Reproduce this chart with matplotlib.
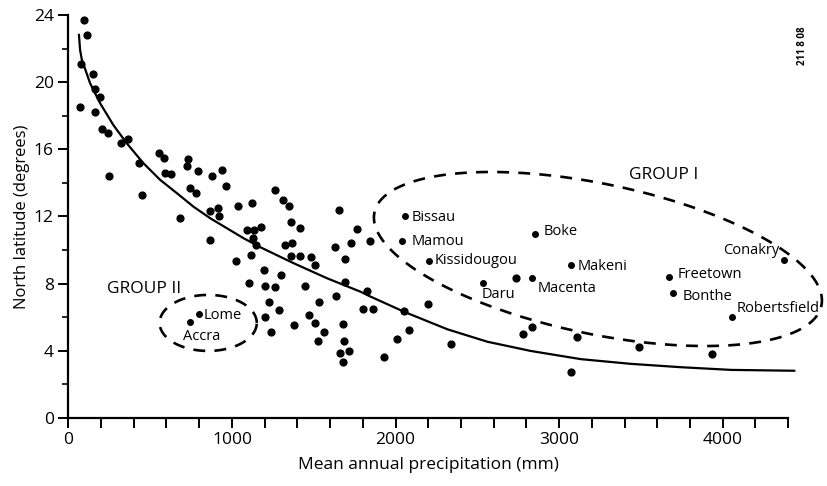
import numpy as np
import matplotlib
matplotlib.use("Agg")
import matplotlib.pyplot as plt
from matplotlib.ticker import MultipleLocator

plt.rcParams['font.family'] = ['Open Sans', 'DejaVu Sans']
plt.rcParams['font.weight'] = 'medium'

# unlabelled stations (precipitation mm, latitude deg N)
precip = [98, 113, 78, 153, 165, 194, 72, 162, 208, 243, 323, 367, 251, 435, 453,
          557, 582, 592, 629, 733, 725, 790, 878, 937, 684, 745, 782, 964, 1037, 1123,
          867, 915, 918, 867, 1092, 1133, 1129, 1180, 1147, 1265, 1313, 1347, 1363, 1418,
          1322, 1369, 1653, 1766, 1628, 1725, 1843, 1117, 1027, 1194, 1300, 1106, 1204,
          1265, 1363, 1414, 1486, 1510, 1449, 1694, 1690, 1637, 1224, 1286, 1200, 1530,
          1469, 1510, 1561, 1382, 1239, 1680, 1683, 1527, 1663, 1718, 1677, 1827, 1802,
          1861, 2051, 2198, 1928, 2010, 2081, 2341, 2739, 2776, 2837, 3108, 3488, 3935,
          3071]
lat = [23.7, 22.8, 21.1, 20.5, 19.6, 19.1, 18.5, 18.2, 17.2, 17.0, 16.4, 16.6, 14.4, 15.2, 13.3,
       15.8, 15.5, 14.6, 14.5, 15.4, 15.0, 14.7, 14.4, 14.75, 11.9, 13.7, 13.4, 13.8, 12.6, 12.8,
       12.3, 12.5, 12.0, 10.6, 11.2, 11.2, 10.7, 11.35, 10.3, 13.6, 13.0, 12.6, 11.65, 11.3,
       10.3, 10.4, 12.4, 11.25, 10.2, 10.4, 10.55, 9.7, 9.36, 8.8, 8.5, 8.05, 7.85,
       7.8, 9.65, 9.66, 9.56, 9.1, 7.85, 9.45, 8.1, 7.26, 6.9, 6.4, 6.0, 6.9,
       6.1, 5.65, 5.1, 5.55, 5.1, 5.6, 4.6, 4.57, 3.85, 3.98, 3.34, 7.55, 6.5,
       6.5, 6.36, 6.8, 3.64, 4.7, 5.2, 4.4, 8.3, 5.0, 5.4, 4.83, 4.23, 3.78,
       2.74]

# named stations
names = ['Lome', 'Accra', 'Bissau', 'Mamou', 'Kissidougou', 'Daru', 'Macenta',
         'Boke', 'Makeni', 'Freetown', 'Bonthe', 'Robertsfield', 'Conakry']
name_precip = [796, 745, 2057, 2037, 2204, 2534, 2837, 2853, 3071, 3669, 3698, 4057, 4377]
name_lat = [6.18, 5.69, 12.03, 10.55, 9.34, 8.05, 8.35, 10.94, 9.1, 8.4, 7.42, 6.02, 9.4]
# label offsets in pixels and alignment
name_off = [(5, -1), (-7, -14), (7, -2), (10, -1), (6, 1), (-1, -12), (5, -11),
            (9, 3), (7, -1), (9, 2), (9, -3), (5, 8), (-5, 10)]
name_ha = ['left'] * 12 + ['right']

# fitted curve
curve_x = [65, 72, 82, 133, 194, 275, 357, 459, 561, 664, 765, 867, 970, 1071, 1174,
           1377, 1582, 1786, 1847, 2051, 2317, 2561, 2826, 3133, 3439, 3745, 4051, 4437]
curve_y = [22.82, 21.92, 21.37, 19.94, 18.75, 17.45, 16.36, 15.17, 14.18, 13.38, 12.58,
           11.89, 11.29, 10.70, 10.16, 9.21, 8.31, 7.51, 7.22, 6.32, 5.27, 4.53, 3.98,
           3.49, 3.21, 3.01, 2.85, 2.80]

fig = plt.figure(figsize=(8.27, 4.86), dpi=100)
ax = fig.add_axes([0.0826, 0.1405, 0.8705, 0.8285])

ax.plot(curve_x, curve_y, color='black', lw=1.6, clip_on=False, zorder=3,
        solid_joinstyle='round')
ax.scatter(precip, lat, s=24, color='black', zorder=4, clip_on=False)
ax.scatter(name_precip, name_lat, s=16, color='black', zorder=4, clip_on=False)

for n, px, py, off, ha in zip(names, name_precip, name_lat, name_off, name_ha):
    ax.annotate(n, (px, py), xytext=off, textcoords='offset pixels',
                ha=ha, va='center', fontsize=10.5, annotation_clip=False)

# dashed group outlines
t = np.linspace(0, 2 * np.pi, 300)
ex = 3237 + 1366 * np.cos(t) + 94 * np.sin(t)
ey = 9.46 - 2.78 * np.cos(t) + 4.38 * np.sin(t)
ax.plot(ex, ey, color='black', lw=1.9, ls=(0, (4.5, 3.5)), clip_on=False)
gx = 855 + 297 * np.cos(t)
gy = 5.65 + 1.67 * np.sin(t)
ax.plot(gx, gy, color='black', lw=1.9, ls=(0, (4.5, 3.5)), clip_on=False)

ax.text(3638, 14.47, 'GROUP I', ha='center', va='center', fontsize=12.5)
ax.text(460, 7.67, 'GROUP II', ha='center', va='center', fontsize=12.5)
fig.text(0.97, 0.905, '211 8 08', rotation=90, ha='center', va='center',
         fontsize=7, fontweight='bold')

ax.set_xlim(0, 4400)
ax.set_ylim(0, 24)
ax.xaxis.set_major_locator(MultipleLocator(1000))
ax.xaxis.set_minor_locator(MultipleLocator(200))
ax.yaxis.set_major_locator(MultipleLocator(4))
ax.yaxis.set_minor_locator(MultipleLocator(2))
ax.tick_params(axis='x', which='both', direction='out', length=7, width=1.4, labelsize=12.5)
ax.tick_params(axis='y', which='major', direction='out', length=7, width=1.4, labelsize=12.5)
ax.tick_params(axis='y', which='minor', direction='out', length=4, width=1.2)
for s in ['top', 'right']:
    ax.spines[s].set_visible(False)
for s in ['left', 'bottom']:
    ax.spines[s].set_linewidth(1.6)

ax.set_xlabel('Mean annual precipitation (mm)', fontsize=12.5, labelpad=6)
ax.set_ylabel('North latitude (degrees)', fontsize=12, labelpad=3)

fig.savefig('out.png', dpi=100)
